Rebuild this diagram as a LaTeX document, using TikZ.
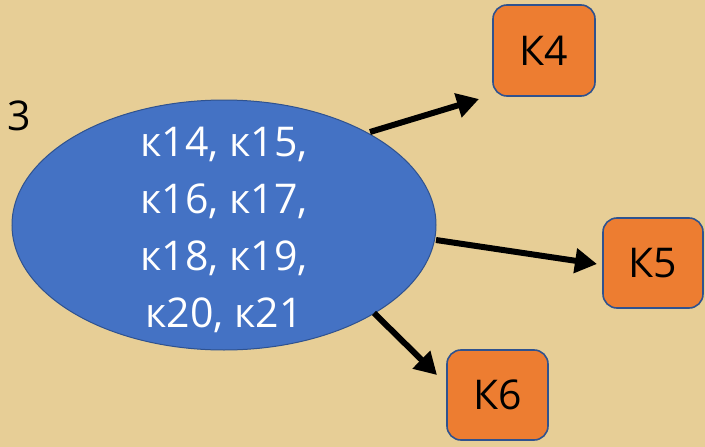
\documentclass[tikz,border=0pt]{standalone}
\usepackage{fontspec}
\setmainfont{Open Sans}
\usetikzlibrary{shapes.geometric,arrows.meta}
\definecolor{bg}{RGB}{231,206,150}
\definecolor{blue1}{RGB}{68,114,196}
\definecolor{blueline}{RGB}{47,82,143}
\definecolor{orange1}{RGB}{237,125,49}
\tikzset{
  ell/.style={ellipse, draw=blueline, line width=1pt, fill=blue1, minimum width=424pt, minimum height=250pt, inner sep=0pt},
  elltext/.style={text=white, align=center, inner sep=0pt, font=\fontsize{41}{57}\selectfont},
  kbox/.style={rectangle, rounded corners=14pt, draw=blueline, line width=1.6pt, fill=orange1, inner sep=0pt, font=\fontsize{41}{54}\selectfont},
  arr/.style={line width=6pt, -{Triangle[length=22pt,width=24pt]}},
}
\begin{document}
\begin{tikzpicture}[x=1pt,y=-1pt]
\fill[bg] (0,0) rectangle (705,447);
\useasboundingbox (0,0) rectangle (705,447);
\node[ell] (e) at (224,225) {};
\node[elltext] (et) at (e.center) {\strut к14, к15,\\к16, к17,\\к18, к19,\\к20, к21};
\node[font=\fontsize{41}{47}\selectfont, anchor=base] (n3) at (19,130) {3};
\node[kbox, minimum width=102pt, minimum height=91pt] (k4) at (544,50.5) {К4};
\node[kbox, minimum width=100pt, minimum height=90pt] (k5) at (653,263) {К5};
\node[kbox, minimum width=101pt, minimum height=90pt] (k6) at (497.5,395) {К6};
\coordinate (s4) at (370,132);
\coordinate (t4) at (479,99);
\coordinate (s5) at (436,240);
\coordinate (t5) at (597,264);
\coordinate (s6) at (374,313);
\coordinate (t6) at (437,375);
\draw[arr] (s4) -- (t4);
\draw[arr] (s5) -- (t5);
\draw[arr] (s6) -- (t6);
\end{tikzpicture}
\end{document}
